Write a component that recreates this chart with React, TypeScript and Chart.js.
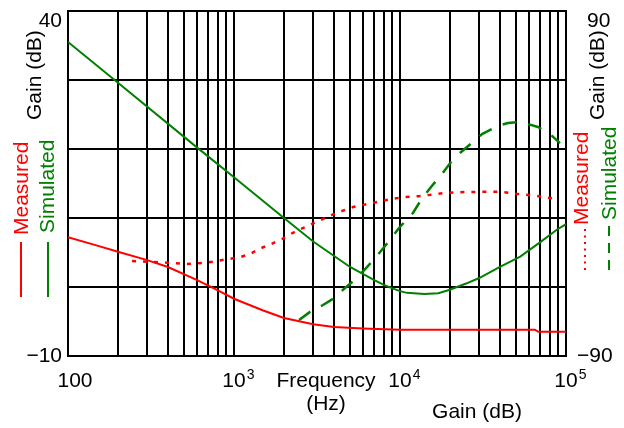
import React, { useEffect, useRef } from 'react';
import { Chart, registerables } from 'chart.js';

Chart.register(...registerables);

const FONT = '"Liberation Sans", Arial, Helvetica, sans-serif';
const RED = '#ff0000';
const GREEN = '#008000';

// Measured gain (solid red, left axis)
const measuredGainFreq = [100, 150, 200, 300, 400, 600, 800, 1000, 1500, 2000, 3000, 4000, 6000, 10000, 65000, 68000, 100000];
const measuredGainDb = [7.2, 6.0, 5.1, 3.9, 2.9, 1.0, -0.5, -1.7, -3.4, -4.5, -5.4, -5.8, -6.0, -6.2, -6.2, -6.5, -6.5];

// Simulated gain (solid green, left axis)
const simulatedGainFreq = [100, 200, 600, 1000, 2000, 3000, 5000, 7000, 8000, 9000, 10000, 11000, 14000, 17000, 20000, 25000, 30000, 40000, 53000, 70000, 88000, 100000];
const simulatedGainDb = [35.5, 29.6, 20.2, 15.9, 10, 6.6, 2.9, 1.0, 0.3, -0.2, -0.6, -0.85, -1.0, -0.9, -0.4, 0.5, 1.3, 2.9, 4.4, 6.5, 8.3, 9.1];

// Measured (dotted red, right axis)
const measuredRightFreq = [243, 394, 521, 687, 1087, 1247, 1412, 1670, 1945, 2265, 2641, 3076, 4000, 5210, 6970, 9070, 10400, 13000, 18600, 25000, 40000, 47800, 66800, 78000, 90800];
const measuredRightVal = [-40.4, -41.3, -42.0, -41.3, -38.4, -36.8, -34.2, -31.6, -29, -25.7, -23, -20.4, -15.9, -12.3, -10, -7.9, -7.2, -6.6, -5.0, -4.4, -4.3, -5.2, -6.5, -7.4, -8.3];

// Simulated (dashed green, right axis)
const simulatedRightFreq = [2466, 2870, 3436, 3946, 4665, 5508, 6326, 7266, 8586, 9862, 11970, 13390, 15380, 17670, 20290, 22970, 27530, 31190, 38900, 44700, 50000, 55800, 67800, 81300, 92000];
const simulatedRightVal = [-71.2, -67.0, -63.4, -60.2, -54.5, -49.3, -43.6, -37.8, -30, -23.2, -15.4, -8.6, -1.8, 4.4, 11.2, 15.9, 21.7, 25.8, 30.0, 31.6, 32.0, 31.6, 29.5, 25.3, 21.1];

// Axis ranges and labels
const xMin = 100;
const xMax = 100000;
const xLabelValues = [100, 1000, 10000, 100000];
const xLabelBase = ['100', '10', '10', '10'];
const xLabelExp = ['', '3', '4', '5'];
const leftMin = -10;
const leftMax = 40;
const leftStep = 10;
const rightMin = -90;
const rightMax = 90;
const leftLabels = ['40', '\u221210'];
const rightLabels = ['90', '\u221290'];

function xGridValues(): number[] {
  const out: number[] = [];
  for (let dec = xMin; dec < xMax; dec *= 10) {
    for (let m = 1; m <= 9; m++) out.push(dec * m);
  }
  out.push(xMax);
  return out;
}

function pts(xs: number[], ys: number[]) {
  return xs.map((x, i) => ({ x, y: ys[i] }));
}

const textPlugin = {
  id: 'customTexts',
  afterDraw(chart: any) {
    const ctx: CanvasRenderingContext2D = chart.ctx;
    const xs = chart.scales.x;
    const ys = chart.scales.y;
    const ys1 = chart.scales.y1;
    const ca = chart.chartArea;
    ctx.save();
    ctx.fillStyle = '#000';
    ctx.textBaseline = 'alphabetic';
    const big = `21px ${FONT}`;
    const small = `14px ${FONT}`;

    // x tick labels
    const xBase = ca.bottom + 31;
    xLabelValues.forEach((v, i) => {
      const px = xs.getPixelForValue(v);
      ctx.font = big;
      if (!xLabelExp[i]) {
        ctx.textAlign = 'center';
        ctx.fillText(xLabelBase[i], px + 7, xBase);
      } else {
        const w = ctx.measureText(xLabelBase[i]).width;
        ctx.textAlign = 'left';
        ctx.fillText(xLabelBase[i], px - w / 2, xBase);
        ctx.font = small;
        ctx.fillText(xLabelExp[i], px + w / 2 + 1, xBase - 8);
      }
    });

    // x titles
    ctx.font = big;
    ctx.textAlign = 'center';
    ctx.fillText('Frequency', 326, xBase);
    ctx.fillText('(Hz)', 326, xBase + 23);
    ctx.fillText('Gain (dB)', 477, xBase + 31);

    // left y labels
    ctx.textAlign = 'right';
    ctx.fillText(leftLabels[0], ca.left - 6, ys.getPixelForValue(leftMax) + 16);
    ctx.fillText(leftLabels[1], ca.left - 6, ys.getPixelForValue(leftMin) + 6);
    // right y labels
    ctx.textAlign = 'left';
    ctx.fillText(rightLabels[0], ca.right + 21, ys1.getPixelForValue(rightMax) + 16);
    ctx.fillText(rightLabels[1], ca.right + 11, ys1.getPixelForValue(rightMin) + 6);

    const vtext = (t: string, x: number, y: number, color: string) => {
      ctx.save();
      ctx.translate(x, y);
      ctx.rotate(-Math.PI / 2);
      ctx.fillStyle = color;
      ctx.textAlign = 'left';
      ctx.fillText(t, 0, 0);
      ctx.restore();
    };
    const vline = (x: number, y0: number, y1: number, color: string, dash: number[], w: number) => {
      ctx.save();
      ctx.strokeStyle = color;
      ctx.lineWidth = w;
      ctx.setLineDash(dash);
      ctx.beginPath();
      ctx.moveTo(x, y0);
      ctx.lineTo(x, y1);
      ctx.stroke();
      ctx.restore();
    };

    // left titles / legend
    vtext('Gain (dB)', 41, 120, '#000');
    vtext('Measured', 27.5, 235, RED);
    vline(21, 297, 242, RED, [], 2);
    vtext('Simulated', 54, 233, GREEN);
    vline(48, 297, 242, GREEN, [], 2);

    // right titles / legend
    vtext('Gain (dB)', 604, 120, '#000');
    vtext('Measured', 587.5, 225, RED);
    vline(585, 270, 228, RED, [2, 4.5], 2);
    vtext('Simulated', 616, 220, GREEN);
    vline(609, 270, 223, GREEN, [10, 7], 2);

    ctx.restore();
  },
};

export default function App() {
  const ref = useRef<HTMLCanvasElement | null>(null);
  useEffect(() => {
    document.body.style.margin = '0';
    const canvas = ref.current!;
    const chart = new Chart(canvas, {
      type: 'line',
      data: {
        datasets: [
          {
            label: 'Measured',
            data: pts(measuredGainFreq, measuredGainDb),
            borderColor: RED,
            borderWidth: 2,
            pointRadius: 0,
            yAxisID: 'y',
          },
          {
            label: 'Simulated',
            data: pts(simulatedGainFreq, simulatedGainDb),
            borderColor: GREEN,
            borderWidth: 2,
            pointRadius: 0,
            yAxisID: 'y',
          },
          {
            label: 'Measured (right)',
            data: pts(measuredRightFreq, measuredRightVal),
            borderColor: RED,
            borderWidth: 2.5,
            borderDash: [4, 7],
            pointRadius: 0,
            yAxisID: 'y1',
          },
          {
            label: 'Simulated (right)',
            data: pts(simulatedRightFreq, simulatedRightVal),
            borderColor: GREEN,
            borderWidth: 2.5,
            borderDash: [14, 12],
            pointRadius: 0,
            yAxisID: 'y1',
          },
        ],
      },
      options: {
        responsive: false,
        animation: false,
        devicePixelRatio: 1,
        layout: { padding: { left: 68, top: 11, right: 58, bottom: 72 } },
        plugins: { legend: { display: false }, tooltip: { enabled: false }, title: { display: false } },
        elements: { line: { tension: 0 } },
        scales: {
          x: {
            type: 'logarithmic',
            min: xMin,
            max: xMax,
            afterBuildTicks: (scale: any) => {
              scale.ticks = xGridValues().map((v) => ({ value: v }));
            },
            ticks: { display: false },
            grid: { color: '#000', lineWidth: 2, drawTicks: false },
            border: { display: true, color: '#000', width: 2 },
          },
          y: {
            type: 'linear',
            position: 'left',
            min: leftMin,
            max: leftMax,
            ticks: { display: false, stepSize: leftStep },
            grid: { color: '#000', lineWidth: 2, drawTicks: false },
            border: { display: true, color: '#000', width: 2 },
          },
          y1: {
            type: 'linear',
            position: 'right',
            min: rightMin,
            max: rightMax,
            ticks: { display: false },
            grid: { display: false, drawTicks: false },
            border: { display: true, color: '#000', width: 2 },
          },
        },
      },
      plugins: [textPlugin],
    } as any);
    return () => chart.destroy();
  }, []);
  return (
    <div style={{ width: 624, height: 428 }}>
      <canvas ref={ref} width={624} height={428} style={{ display: 'block', width: 624, height: 428 }} />
    </div>
  );
}
